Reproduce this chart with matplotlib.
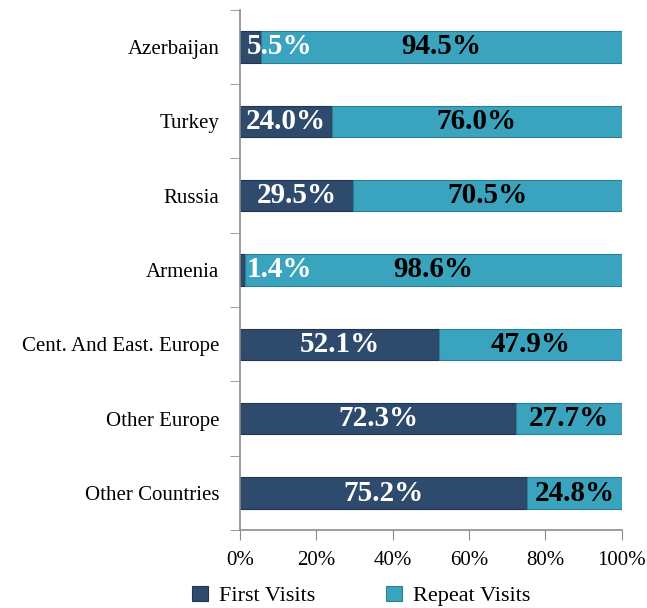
import numpy as np
import matplotlib.pyplot as plt

countries = ["Azerbaijan", "Turkey", "Russia", "Armenia",
             "Cent. And East. Europe", "Other Europe", "Other Countries"]
first_visits = [5.5, 24.0, 29.5, 1.4, 52.1, 72.3, 75.2]
repeat_visits = [94.5, 76.0, 70.5, 98.6, 47.9, 27.7, 24.8]
x_ticks = [0, 20, 40, 60, 80, 100]

dark = "#2e4a6c"
teal = "#3aa3be"
grey = "#8c8c8c"

plt.rcParams['font.family'] = ['Liberation Serif', 'DejaVu Serif']

fig = plt.figure(figsize=(6.47, 6.08), dpi=100)
ax = fig.add_axes([0.371, 0.128, 0.59, 0.856])

y = np.arange(len(countries))
h = 0.42

ax.barh(y, first_visits, height=h, color=dark, edgecolor="#1f3550",
        linewidth=0.8, label="First Visits")
ax.barh(y, repeat_visits, left=first_visits, height=h, color=teal,
        edgecolor="#2a7f95", linewidth=0.8, label="Repeat Visits")

for i in range(len(countries)):
    f = first_visits[i]
    r = repeat_visits[i]
    if f < 10:
        ax.text(1.8, y[i], f"{f:.1f}%", ha="left", va="center",
                color="white", fontsize=21, fontweight="bold")
    else:
        ax.text(f / 2, y[i], f"{f:.1f}%", ha="center", va="center",
                color="white", fontsize=21, fontweight="bold")
    ax.text(f + r / 2, y[i], f"{r:.1f}%", ha="center", va="center",
            color="black", fontsize=21, fontweight="bold")

ax.set_xlim(0, 100)
ax.set_ylim(len(countries) - 0.5, -0.5)
ax.set_xticks(x_ticks)
ax.set_xticklabels([f"{t}%" for t in x_ticks], fontsize=15)
ax.set_yticks(y)
ax.set_yticklabels(countries, fontsize=15)
ax.set_yticks(np.arange(len(countries) + 1) - 0.5, minor=True)

ax.tick_params(axis="y", which="major", length=0, pad=15)
ax.tick_params(axis="y", which="minor", length=7, color=grey, direction="out")
ax.tick_params(axis="x", length=7, color=grey, direction="out", pad=8)

for s in ["top", "right"]:
    ax.spines[s].set_visible(False)
for s in ["left", "bottom"]:
    ax.spines[s].set_color(grey)
    ax.spines[s].set_linewidth(1.2)

fig.legend(loc="lower center", bbox_to_anchor=(0.558, -0.03), ncol=2,
           frameon=False, fontsize=16, handlelength=0.7, handleheight=0.7,
           handletextpad=0.5, columnspacing=3.2)

fig.savefig("out.png", dpi=100)
